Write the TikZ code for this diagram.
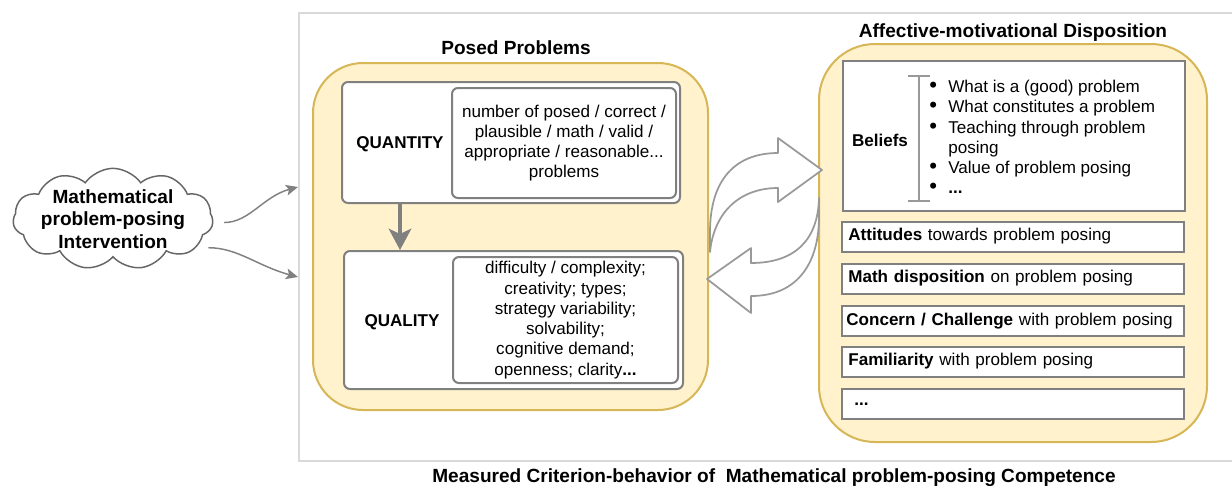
\documentclass[tikz,border=0pt]{standalone}
\usepackage{fontspec}
\setmainfont{Liberation Sans}
\usetikzlibrary{shapes.symbols,arrows.meta}
\definecolor{panelfill}{HTML}{FFF2CC}
\definecolor{panelline}{HTML}{D6B656}
\definecolor{greyline}{HTML}{808080}
\definecolor{frameline}{HTML}{D9D9D9}
\definecolor{swapline}{HTML}{999999}

\begin{document}
\begin{tikzpicture}[x=0.75pt,y=-0.75pt,
  every node/.style={font=\fontsize{12.8}{15.2}\selectfont},
  panel/.style={draw=panelline,fill=panelfill,line width=1.5pt},
  heading/.style={font=\fontsize{14.3}{16.9}\selectfont\bfseries},
  label/.style={font=\fontsize{12.8}{15.2}\selectfont\bfseries},
  rbox/.style={draw=greyline,fill=white,line width=1.5pt,rounded corners=4.5pt,inner sep=0pt},
  sbox/.style={draw=greyline,fill=white,line width=1.5pt,inner sep=0pt},
  listbox/.style={sbox,minimum width=256.5pt,minimum height=22.5pt,text width=250pt,align=left},
  feedarrow/.style={draw=greyline,line width=1.1pt,-{Stealth[length=9pt,width=8pt,inset=2pt]}},
  swaparrow/.style={draw=swapline,fill=white,line width=1.3pt,line join=round},
  ]
  \path[use as bounding box,clip] (0,0) rectangle (1232,487);
  \draw[frameline,line width=1.5pt] (299,13) rectangle (1260,461);

  % intervention cloud
  \node[cloud,cloud puffs=11,cloud puff arc=110,cloud ignores aspect,draw=greyline!80!black,
    fill=white,line width=1.1pt,minimum width=150pt,minimum height=76pt,inner sep=-4pt,
    align=center,heading] (cloud) at (113,219) {Mathematical\\problem-posing\\Intervention};
  \coordinate (posedin1) at (298,187);
  \coordinate (posedin2) at (298,277);
  \draw[feedarrow,shorten <=8pt] (cloud.-2) to[out=0,in=195] (posedin1);
  \draw[feedarrow,shorten <=9pt] (cloud.-19) to[out=0,in=165] (posedin2);

  % posed problems
  \node[panel,rounded corners=37.5pt,minimum width=296.25pt,minimum height=260.25pt] (posed) at (510.5,236.5) {};
  \node[heading] (posedtitle) at (516,48) {Posed Problems};
  \node[rbox,minimum width=253.5pt,minimum height=90.75pt] (quantity) at (511,142.5) {};
  \node[rbox,minimum width=168pt,minimum height=82.5pt,align=center] (quantitytxt) at (564,143)
    {number of posed / correct /\\plausible / math / valid /\\appropriate / reasonable...\\problems};
  \node[label] (quantitylbl) at (400,144) {QUANTITY};
  \node[rbox,minimum width=254.25pt,minimum height=103.5pt] (quality) at (513.5,320) {};
  \node[rbox,minimum width=168.75pt,minimum height=94.5pt,align=center] (qualitytxt) at (565.5,320)
    {difficulty / complexity;\\creativity; types;\\strategy variability;\\solvability;\\cognitive demand;\\openness; clarity\textbf{...}};
  \node[label] (qualitylbl) at (402,322) {QUALITY};
  \draw[draw=greyline,line width=2.3pt,-{Stealth[length=16pt,width=17pt,inset=4pt]}]
    (quantity.south -| quantitylbl) -- (quality.north -| quantitylbl);

  % affective-motivational disposition
  \node[panel,rounded corners=42pt,minimum width=291pt,minimum height=298.5pt] (affect) at (1013,243) {};
  \node[heading] (affecttitle) at (1013,33) {Affective-motivational Disposition};
  \node[sbox,minimum width=256.5pt,minimum height=112.5pt] (beliefs) at (1014,136) {};
  \node[label] (beliefslbl) at (880,140) {Beliefs};
  \draw[swapline,line width=0.9pt] (908,76) -- (930,76) (919,76) -- (919,201) (908,201) -- (930,201);
  \node[anchor=north west,inner sep=0pt,align=left] (beliefitems) at (929,80)
    {\makebox[14.25pt][l]{\scalebox{1.3}{\textbullet}}What is a (good) problem\\
     \makebox[14.25pt][l]{\scalebox{1.3}{\textbullet}}What constitutes a problem\\
     \makebox[14.25pt][l]{\scalebox{1.3}{\textbullet}}Teaching through problem\\
     \hspace*{14.25pt}posing\\
     \makebox[14.25pt][l]{\scalebox{1.3}{\textbullet}}Value of problem posing\\
     \makebox[14.25pt][l]{\scalebox{1.3}{\textbullet}}\textbf{...}};
  \node[listbox] (attitudes) at (1013,236.5) {\hspace*{1.5pt}\textbf{Attitudes} towards problem posing};
  \node[listbox] (mathdisp) at (1013,278.5) {\hspace*{1.5pt}\textbf{Math disposition} on problem posing};
  \node[listbox] (concern) at (1013,321) {\textbf{Concern / Challenge} with problem posing};
  \node[listbox] (familiarity) at (1013,361.5) {\hspace*{1.5pt}\textbf{Familiarity} with problem posing};
  \node[listbox] (moreitems) at (1013,404) {\hspace*{6pt}\textbf{...}};

  % exchange between the two panels
  \draw[swaparrow] (710,252) -- (710,232) .. controls (710,180) and (735,153) .. (778,153)
    -- (778,138) -- (822,170) -- (778,202) -- (778,188)
    .. controls (740,188) and (714,212) .. (710,252) -- cycle;
  \draw[swaparrow] (819,198) .. controls (818,240) and (795,263) .. (751,263)
    -- (751,248) -- (707,279) -- (751,313) -- (751,296)
    .. controls (800,296) and (819,260) .. (819,217) -- cycle;

  \node[heading] (caption) at (774,478) {Measured Criterion-behavior of\ \ Mathematical problem-posing Competence};
\end{tikzpicture}
\end{document}
